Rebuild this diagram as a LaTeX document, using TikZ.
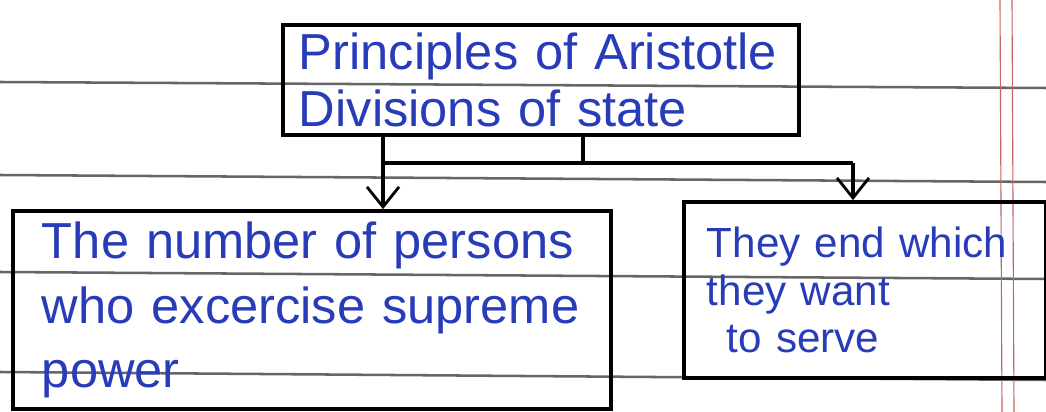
\documentclass[tikz,border=0pt]{standalone}
\usepackage{fontspec}
\setmainfont{Liberation Sans}
\usepackage{xcolor}
\usetikzlibrary{arrows.meta}
\definecolor{inkblue}{RGB}{40,60,185}
\definecolor{marginred}{RGB}{200,100,100}
\tikzset{>={Straight Barb[length=5mm,width=8mm,line width=2pt]}}

\begin{document}
\begin{tikzpicture}[x=0.025cm,y=-0.025cm,
squarednode/.style={rectangle, draw=black, line width=2.6pt, text=inkblue, align=left, inner sep=0pt},
ruleline/.style={draw=black!60, line width=1.8pt},
arrowline/.style={draw=black, line width=2.2pt},
]
\useasboundingbox (0,0) rectangle (1046,412);
\fill[white] (0,0) rectangle (1046,412);

%Paper
\draw[ruleline] (0,82) -- (1046,88);
\draw[ruleline] (0,175) -- (1046,182);
\draw[ruleline] (0,272) -- (1046,279);
\draw[ruleline] (0,372) -- (1046,380);
\draw[draw=marginred, line width=0.8pt] (1000,0) -- (1002,412);
\draw[draw=marginred, line width=0.8pt] (1012,0) -- (1014,412);

%Nodes
\node[squarednode, minimum width=12.9cm, minimum height=2.75cm, text width=12.1cm,
  font=\fontsize{36}{40}\selectfont](Principles) at (541,80)
  {Principles of Aristotle\\Divisions of state};
\node[squarednode, minimum width=14.95cm, minimum height=4.95cm, text width=13.5cm,
  font=\fontsize{36}{46}\selectfont](Number of persons) at (312,310)
  {The number of persons\\who excercise supreme\\power};
\node[squarednode, minimum width=9.05cm, minimum height=4.4cm, text width=7.9cm,
  font=\fontsize{30}{34}\selectfont](End) at (865,290)
  {They end which\\they want\\\hspace*{0.5cm}to serve};

%Lines
\coordinate (Split) at (583,163);
\coordinate (Left turn) at (383,163);
\coordinate (Right turn) at (853,163);
\draw[arrowline] (Principles.south -| Split) -- (Split);
\draw[arrowline] (Left turn) -- (Right turn);
\draw[arrowline,->] (Principles.south -| Left turn) -- (Number of persons.north -| Left turn);
\draw[arrowline,->] (Right turn) -- (End.north -| Right turn);

\end{tikzpicture}
\end{document}
